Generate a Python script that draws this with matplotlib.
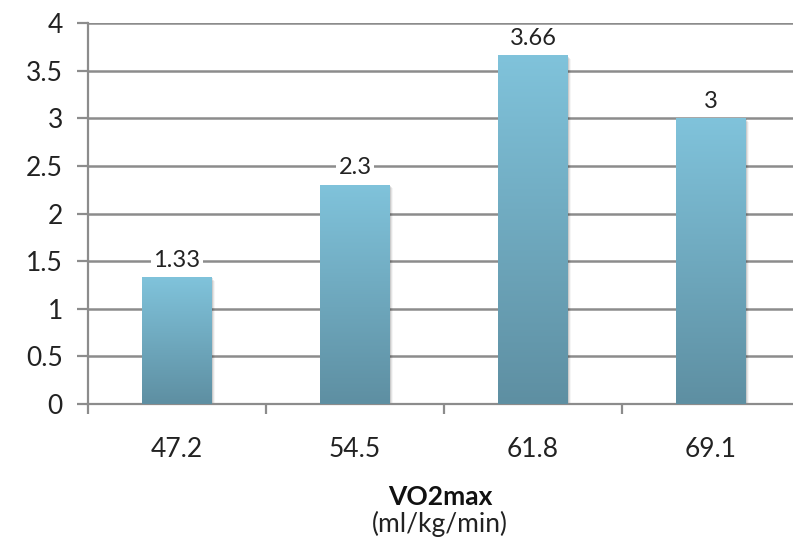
import numpy as np
import matplotlib.pyplot as plt
from matplotlib.patches import Rectangle

categories = ["47.2", "54.5", "61.8", "69.1"]
values = [1.33, 2.3, 3.66, 3.0]
value_labels = ["1.33", "2.3", "3.66", "3"]
yticks = [0, 0.5, 1, 1.5, 2, 2.5, 3, 3.5, 4]
ytick_labels = ["0", "0.5", "1", "1.5", "2", "2.5", "3", "3.5", "4"]

plt.rcParams["font.family"] = ["Lato", "DejaVu Sans"]

fig = plt.figure(figsize=(7.93, 5.46), dpi=100)
# right edge of the plot runs slightly past the figure border
ax = fig.add_axes([88 / 793, 142 / 546, 712 / 793, 381 / 546])

x = np.arange(len(categories))
bar_w = 0.39
ax.set_xlim(-0.5, len(categories) - 0.5)
ax.set_ylim(0, 4)

ax.set_yticks(yticks)
ax.set_yticklabels(ytick_labels, fontsize=19, color="#222222")
ax.yaxis.grid(True, color="#8c8c8c", linewidth=1.8, zorder=0)
ax.set_axisbelow(True)

ax.set_xticks(x)
ax.set_xticklabels(categories, fontsize=19, color="#222222")
ax.set_xticks(np.arange(len(categories) + 1) - 0.5, minor=True)
ax.tick_params(axis="x", which="major", length=0, pad=24)
ax.tick_params(axis="x", which="minor", length=7, width=1.6, color="#8c8c8c")
ax.tick_params(axis="y", length=8, width=1.6, color="#8c8c8c", pad=10)

for side in ["top", "right"]:
    ax.spines[side].set_visible(False)
for side in ["left", "bottom"]:
    ax.spines[side].set_color("#8c8c8c")
    ax.spines[side].set_linewidth(1.6)

# vertical gradient used to fill each bar
grad = np.linspace(0, 1, 256).reshape(-1, 1)
top_c = np.array([0x80, 0xc3, 0xdb]) / 255
bot_c = np.array([0x5e, 0x8f, 0xa2]) / 255
rgb = bot_c + (top_c - bot_c) * grad
rgb = rgb.reshape(256, 1, 3)

for xi, v, lab in zip(x, values, value_labels):
    left = xi - bar_w / 2
    # soft shadow
    for k, a in enumerate([0.10, 0.07, 0.04]):
        dx = 0.006 * (k + 1)
        dy = 0.012 * (k + 1)
        ax.add_patch(Rectangle((left + dx, -dy), bar_w, v, facecolor="black",
                               alpha=a, edgecolor="none", zorder=2))
    rect = Rectangle((left, 0), bar_w, v, facecolor="none", edgecolor="none", zorder=3)
    ax.add_patch(rect)
    im = ax.imshow(rgb, extent=(left, left + bar_w, 0, v), origin="lower",
                   aspect="auto", zorder=3, interpolation="bilinear")
    im.set_clip_path(rect)
    ax.text(xi, v + 0.18, lab, ha="center", va="center", fontsize=17, color="#222222",
            zorder=5, bbox=dict(facecolor="white", edgecolor="none", pad=2))

ax.set_xlim(-0.5, len(categories) - 0.5)
ax.set_ylim(0, 4)

fig.text(440 / 793, 1 - 497 / 546, "VO2max", ha="center", va="center",
         fontsize=19, fontweight="bold", color="#111111")
fig.text(440 / 793, 1 - 524 / 546, "(ml/kg/min)", ha="center", va="center",
         fontsize=19, color="#222222")

fig.savefig("out.png", dpi=100)
